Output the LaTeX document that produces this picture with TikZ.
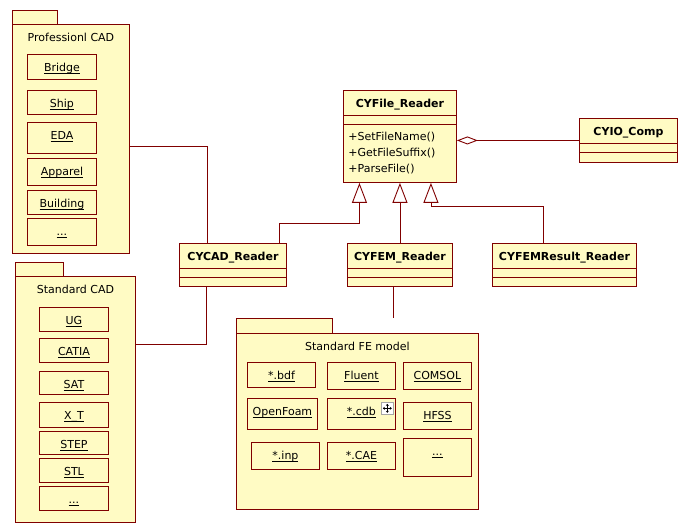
\documentclass[tikz,border=0pt]{standalone}
\usepackage{fontspec}
\setmainfont{DejaVu Sans}
\usetikzlibrary{arrows.meta}
\definecolor{umlline}{RGB}{128,0,0}
\definecolor{umlfill}{RGB}{255,251,196}
\newcommand\ulabel[1]{\underline{\smash{#1}}}

\begin{document}
\begin{tikzpicture}[x=1pt, y=-1pt, line width=0.9pt,
    font=\fontsize{11pt}{13pt}\selectfont,
    pkg/.style={draw=umlline, fill=umlfill, anchor=north west, inner sep=0pt, text height=17pt, text depth=#1},
    item/.style={draw=umlline, fill=umlfill, anchor=north west, inner sep=0pt, minimum width=68pt, text height=17pt, text depth=#1},
    item/.default=8pt,
    cls/.style={draw=umlline, fill=umlfill, anchor=north west, inner sep=0pt, text height=17pt, text depth=#1, font=\fontsize{11pt}{13pt}\selectfont\bfseries},
    conn/.style={draw=umlline},
    inherit/.style={conn, -{Triangle[open, length=20pt, width=15pt]}},
    aggr/.style={conn, {Diamond[open, length=21pt, width=8pt]}-}]

    \fill[white] (0,0) rectangle (697,532);
    \useasboundingbox (0,0) rectangle (697,532);

    % packages
    \node[pkg=212pt, minimum width=117pt] (prof) at (12,24) {Professionl CAD};
    \draw[conn, fill=umlfill] (prof.north west) rectangle ++(45,-14);
    \node[pkg=229pt, minimum width=120pt] (std) at (15,276) {Standard CAD};
    \draw[conn, fill=umlfill] (std.north west) rectangle ++(48,-14);
    \node[pkg=159pt, minimum width=242pt] (fe) at (236,333) {Standard FE model};
    \draw[conn, fill=umlfill] (fe.north west) rectangle ++(96,-15);

    \node[item, minimum width=69pt] (bridge) at (27,54) {\ulabel{Bridge}};
    \node[item=7pt, minimum width=69pt] (ship) at (27,90) {\ulabel{Ship}};
    \node[item=14pt, minimum width=69pt] (eda) at (27,122) {\ulabel{EDA}};
    \node[item=10pt, minimum width=69pt] (apparel) at (27,158) {\ulabel{Apparel}};
    \node[item=7pt, minimum width=69pt] (building) at (27,190) {\ulabel{Building}};
    \node[item=10pt, minimum width=69pt] (pmore) at (27,218) {\ulabel{...}};

    \node[item=7pt, minimum width=69pt] (ug) at (39,307) {\ulabel{UG}};
    \node[item=7pt, minimum width=69pt] (catia) at (39,338) {\ulabel{CATIA}};
    \node[item=6pt, minimum width=69pt] (sat) at (39,371) {\ulabel{SAT}};
    \node[item, minimum width=69pt] (xt) at (39,402) {\ulabel{X\_T}};
    \node[item=6pt, minimum width=69pt] (step) at (39,431) {\ulabel{STEP}};
    \node[item=7pt, minimum width=69pt] (stl) at (39,458) {\ulabel{STL}};
    \node[item=7pt, minimum width=69pt] (smore) at (39,486) {\ulabel{...}};

    \node[item] (bdf) at (247,362) {\ulabel{*.bdf}};
    \node[item=10pt] (fluent) at (327,362) {\ulabel{Fluent}};
    \node[item=10pt] (comsol) at (403,362) {\ulabel{COMSOL}};
    \node[item=14pt, minimum width=70pt] (openfoam) at (247,398) {\ulabel{OpenFoam}};
    \node[item=14pt] (cdb) at (327,398) {\ulabel{*.cdb}};
    \node[item=10pt] (hfss) at (403,402) {\ulabel{HFSS}};
    \node[item=10pt] (inp) at (251,442) {\ulabel{*.inp}};
    \node[item=10pt] (cae) at (327,442) {\ulabel{*.CAE}};
    \node[item=21pt] (femore) at (403,438) {\ulabel{...}};

    % move handle on *.cdb
    \node[draw=gray!70, fill=white, line width=0.6pt, minimum size=12pt, inner sep=0pt, anchor=north west] (move) at (381,402) {};
    \draw[line width=0.7pt, {Stealth[length=2pt, width=3pt]}-{Stealth[length=2pt, width=3pt]}] ([xshift=-4.5pt]move.center) -- ([xshift=4.5pt]move.center);
    \draw[line width=0.7pt, {Stealth[length=2pt, width=3pt]}-{Stealth[length=2pt, width=3pt]}] ([yshift=-4.5pt]move.center) -- ([yshift=4.5pt]move.center);

    % classes
    \node[cls=26pt, minimum width=107pt] (cad) at (179,243) {CYCAD\_Reader};
    \node[cls=26pt, minimum width=105pt] (fem) at (347,243) {CYFEM\_Reader};
    \node[cls=26pt, minimum width=144pt] (res) at (492,243) {CYFEMResult\_Reader};
    \node[cls=75pt, minimum width=113pt] (file) at (343,90) {CYFile\_Reader};
    \node[cls=27pt, minimum width=98pt] (io) at (579,118) {CYIO\_Comp};
    \foreach \c in {cad,fem,res,file,io}
        \draw[conn] ([yshift=-25pt]\c.north west) -- ([yshift=-25pt]\c.north east)
            ([yshift=-34pt]\c.north west) -- ([yshift=-34pt]\c.north east);
    \node[anchor=north west, align=left, inner sep=0pt, font=\fontsize{11pt}{16pt}\selectfont] (ops) at (348,132) {+SetFileName()\\+GetFileSuffix()\\+ParseFile()};

    % connectors
    \draw[conn] ([yshift=-8pt]prof.east) -| ([xshift=-25.5pt]cad.north);
    \draw[conn] ([yshift=55pt]std.east) -| ([xshift=-26.5pt]cad.south);
    \draw[inherit] ([xshift=46.5pt]cad.north) -- ++(0,-20) -| ([xshift=-40.5pt]file.south);
    \draw[inherit] (fem.north) -- (fem.north |- file.south);
    \draw[inherit] ([xshift=-21pt]res.north) -- ++(0,-37) -| ([xshift=31pt]file.south);
    \draw[aggr] (file.east |- io.west) -- (io.west);
    \coordinate (festub) at (393,318);
    \draw[conn] (fem.south -| festub) -- (festub);
\end{tikzpicture}
\end{document}
